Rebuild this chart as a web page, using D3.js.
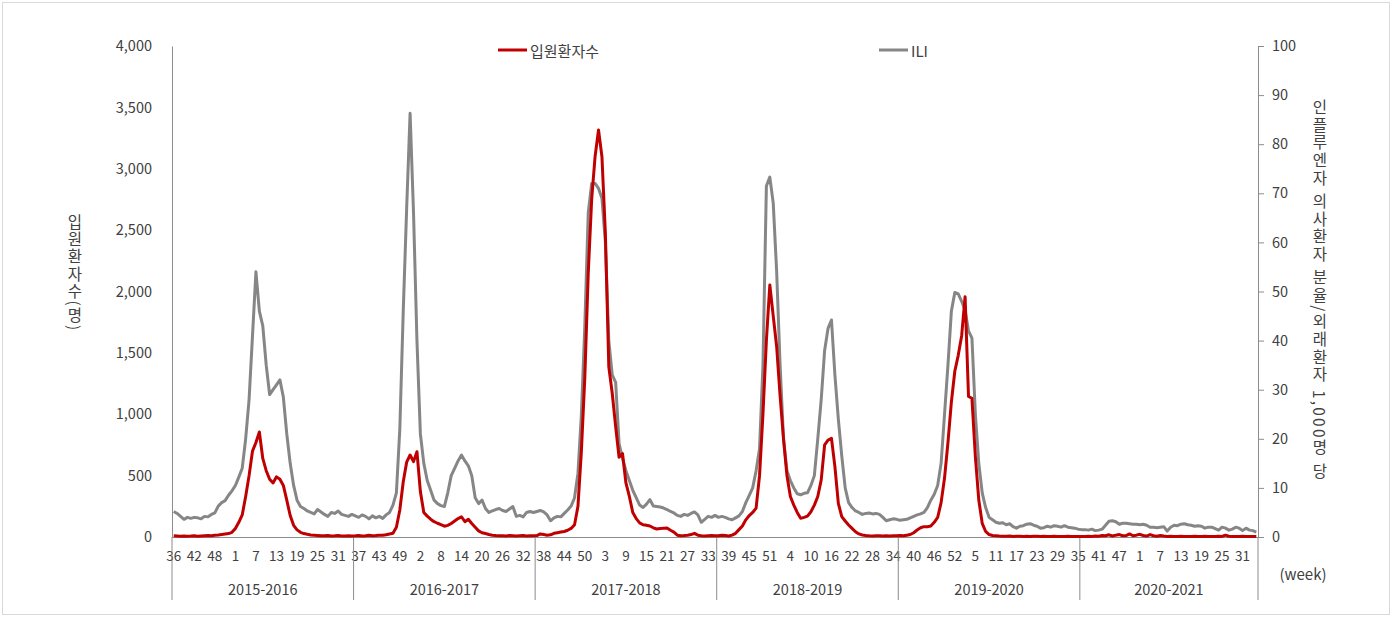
<!DOCTYPE html>
<html>
<head>
<meta charset="utf-8">
<script src="https://cdn.jsdelivr.net/npm/d3@7"></script>
<style>
  html, body { margin: 0; padding: 0; background: #ffffff; }
  svg { display: block; }
  text { font-family: "Noto Sans CJK KR", "Noto Sans", sans-serif; fill: #404040; }
</style>
</head>
<body>
<svg id="chart" width="1397" height="644"></svg>
<script>
// ---------------- DATA ----------------
const seasons = ["2015-2016", "2016-2017", "2017-2018", "2018-2019", "2019-2020", "2020-2021"];
const weeksPerSeason = [53, 53, 53, 53, 53, 52];

const weekTickLabels = ["36","42","48","1","7","13","19","25","31",
  "37","43","49","2","8","14","20","26","32",
  "38","44","50","3","9","15","21","27","33",
  "39","45","51","4","10","16","22","28","34",
  "40","46","52","5","11","17","23","29","35",
  "41","47","1","7","13","19","25","31"];
const tickEvery = 6;

const leftTicks = [0, 500, 1000, 1500, 2000, 2500, 3000, 3500, 4000];
const rightTicks = [0, 10, 20, 30, 40, 50, 60, 70, 80, 90, 100];

// 입원환자수 (hospitalized patients), per season
const hosp2015 = [10, 8, 6, 9, 7, 8, 10, 7, 9, 11, 12, 10, 14, 16,
  20, 24, 28, 38, 70, 120, 180, 330, 500, 700, 770, 855, 640, 540,
  470, 440, 490, 470, 420, 300, 175, 95, 58, 38, 28, 22, 17, 15,
  13, 11, 10, 12, 9, 10, 12, 9, 8, 10, 9];
const hosp2016 = [10, 12, 8, 10, 14, 10, 12, 15, 14, 18,
  25, 30, 80, 220, 450, 610, 668, 614, 695, 370, 200, 170, 145, 125,
  112, 100, 88, 95, 110, 130, 150, 165, 125, 145, 110, 80, 50, 35,
  28, 20, 15, 12, 10, 11, 9, 12, 10, 8, 10, 12, 9, 11, 10];
const hosp2017 = [12, 25, 20, 15, 18, 30, 35, 40, 45, 55, 70,
  100, 250, 700, 1300, 2150, 2750, 3100, 3316, 3098, 2474, 1387, 1171, 900, 650,
  680, 440, 330, 200, 150, 115, 100, 95, 90, 75, 65, 70, 72, 73,
  55, 40, 15, 10, 12, 15, 20, 30, 15, 10, 8, 10, 12, 10];
const hosp2018 = [10, 15, 12, 8, 15, 30, 60, 90, 140, 175, 200, 235,
  500, 1000, 1600, 2053, 1800, 1550, 1150, 800, 500, 330, 260, 200, 152, 160,
  170, 206, 260, 330, 464, 750, 790, 804, 573, 274, 166, 130, 98, 70,
  43, 25, 16, 12, 10, 9, 11, 10, 8, 10, 9, 11, 10];
const hosp2019 = [12, 10, 15, 20, 35, 57, 75, 84, 84, 90, 120, 160, 280,
  480, 770, 1100, 1350, 1480, 1640, 1958, 1145, 1130, 654, 301, 111, 45, 20,
  12, 10, 8, 7, 6, 8, 5, 6, 7, 5, 6, 5, 7, 6, 5, 6, 4, 5, 6, 5, 4, 5, 6, 5, 4, 5];
const hosp2020 = [5, 4, 6, 5, 8, 6, 12, 10, 18, 8,
  15, 20, 10, 12, 25, 10, 15, 22, 12, 8,
  20, 10, 6, 12, 8, 5, 6, 5, 4, 6,
  5, 4, 5, 6, 4, 5, 6, 5, 4, 5,
  6, 5, 15, 6, 5, 4, 5, 6, 5, 4,
  5, 4];

// ILI (per 1,000 outpatients), per season
const ili2015 = [5.2, 4.8, 4.2, 3.6, 4.0, 3.8, 4.0, 3.9, 3.7, 4.2, 4.1, 4.6, 4.9, 6.3,
  7.0, 7.4, 8.5, 9.4, 10.5, 12.2, 14.0, 20.0, 28.0, 41.0, 54.0, 46.0, 43.0, 35.0,
  29.0, 30.0, 31.0, 32.0, 28.5, 21.0, 15.0, 10.5, 7.5, 6.2, 5.8, 5.3, 5.0, 4.7,
  5.6, 5.1, 4.6, 4.2, 5.0, 4.8, 5.3, 4.6, 4.4, 4.2, 4.6];
const ili2016 = [4.3, 4.0, 4.5, 4.2, 3.7, 4.3, 3.9, 4.2, 3.8, 4.5,
  5.0, 6.5, 9.0, 22.0, 46.0, 67.0, 86.3, 66.0, 40.0, 21.0, 15.0, 11.5, 9.5, 7.5,
  6.8, 6.4, 6.2, 9.0, 12.5, 14.0, 15.5, 16.7, 15.5, 14.5, 12.5, 8.0, 6.8, 7.5,
  5.8, 5.0, 5.3, 5.6, 5.8, 5.4, 5.2, 5.7, 6.2, 4.2, 4.4, 4.1, 5.0, 5.2, 5.0];
const ili2017 = [5.2, 5.4, 5.1, 4.5, 3.3, 3.9, 4.2, 4.1, 4.8, 5.5, 6.3,
  8.0, 13.0, 25.0, 43.0, 66.0, 72.0, 72.0, 71.0, 69.0, 60.0, 40.0, 33.0, 31.5, 19.0,
  16.0, 13.5, 11.5, 9.5, 8.0, 6.5, 6.0, 6.7, 7.6, 6.3, 6.2, 6.1, 5.9, 5.6,
  5.2, 4.9, 4.4, 4.2, 4.6, 4.4, 4.8, 5.1, 4.5, 3.0, 3.6, 4.2, 4.0, 4.4];
const ili2018 = [4.0, 4.2, 4.0, 3.7, 3.5, 3.9, 4.3, 5.2, 7.0, 8.5, 10.0, 13.5,
  18.0, 35.0, 71.5, 73.3, 68.0, 54.0, 35.0, 20.0, 13.5, 11.5, 10.0, 8.8, 8.6, 8.9,
  9.0, 10.5, 12.5, 20.0, 28.0, 38.0, 42.5, 44.2, 33.0, 24.0, 16.5, 10.0, 7.0, 6.0,
  5.3, 5.0, 4.6, 4.8, 4.9, 4.7, 4.8, 4.6, 4.0, 3.3, 3.5, 3.7, 3.6];
const ili2019 = [3.4, 3.5, 3.6, 3.9, 4.2, 4.5, 4.7, 5.0, 6.0, 7.5, 8.7, 10.5, 15.0,
  25.0, 35.0, 46.0, 49.8, 49.5, 48.0, 46.2, 42.0, 40.5, 25.0, 15.0, 9.0, 6.0, 4.0,
  3.5, 3.0, 2.8, 2.9, 2.5, 2.7, 2.1, 1.8, 2.2, 2.3, 2.6, 2.7, 2.4, 2.2, 1.8, 1.9,
  2.2, 2.0, 2.3, 2.2, 2.0, 2.3, 2.0, 1.9, 1.8, 1.6];
const ili2020 = [1.5, 1.5, 1.4, 1.6, 1.3, 1.4, 1.6, 2.4, 3.2, 3.3,
  3.1, 2.6, 2.8, 2.8, 2.7, 2.6, 2.6, 2.5, 2.6, 2.4,
  2.0, 2.0, 1.9, 2.0, 2.1, 1.2, 2.0, 2.4, 2.3, 2.6,
  2.7, 2.5, 2.4, 2.2, 2.3, 2.2, 1.8, 2.0, 2.0, 1.7,
  1.4, 2.0, 1.8, 1.4, 1.6, 2.0, 1.8, 1.3, 1.8, 1.4,
  1.3, 1.0];

const hospitalized = [].concat(hosp2015, hosp2016, hosp2017, hosp2018, hosp2019, hosp2020);
const ili = [].concat(ili2015, ili2016, ili2017, ili2018, ili2019, ili2020);

// ---------------- CHART ----------------
const svg = d3.select("#chart");
const axisColor = "#8c8c8c";
const red = "#C00000";
const grey = "#868686";

const plot = { left: 172, right: 1258, top: 46, bottom: 537 };
const N = d3.sum(weeksPerSeason);

const x = d3.scaleBand().domain(d3.range(N)).range([plot.left, plot.right]).padding(0);
const cx = i => x(i) + x.bandwidth() / 2;
const yL = d3.scaleLinear().domain([0, 4000]).range([plot.bottom, plot.top]);
const yR = d3.scaleLinear().domain([0, 100]).range([plot.bottom, plot.top]);

// outer frame
svg.append("rect").attr("x", 2.5).attr("y", 2.5).attr("width", 1387).attr("height", 612)
  .attr("fill", "none").attr("stroke", "#d9d9d9").attr("stroke-width", 1);

// left axis
const gL = svg.append("g").attr("transform", `translate(${plot.left},0)`)
  .call(d3.axisLeft(yL).tickValues(leftTicks).tickSize(0).tickPadding(20).tickFormat(d3.format(",")));
gL.select(".domain").attr("stroke", axisColor);
gL.selectAll("text").style("font-size", "14.5px").attr("fill", "#404040");

// right axis
const gR = svg.append("g").attr("transform", `translate(${plot.right},0)`)
  .call(d3.axisRight(yR).tickValues(rightTicks).tickSizeInner(6).tickSizeOuter(6).tickPadding(8));
gR.select(".domain").attr("stroke", axisColor);
gR.selectAll(".tick line").attr("stroke", axisColor);
gR.selectAll("text").style("font-size", "14.5px").attr("fill", "#404040");

// bottom axis (week labels)
const tickIdx = weekTickLabels.map((_, k) => k * tickEvery);
const gB = svg.append("g").attr("transform", `translate(0,${plot.bottom})`)
  .call(d3.axisBottom(x).tickValues(tickIdx).tickSize(0).tickPadding(14)
    .tickFormat((d, k) => weekTickLabels[k]));
gB.select(".domain").attr("stroke", axisColor).attr("d", `M${plot.left},0.5H${plot.right}`);
gB.selectAll("text").style("font-size", "13.5px").attr("fill", "#404040");

// season separators and labels
let start = 0;
const bounds = [0];
weeksPerSeason.forEach(n => { start += n; bounds.push(start); });
bounds.forEach(b => {
  const bx = b < N ? x(b) : plot.right;
  svg.append("line").attr("x1", bx).attr("x2", bx).attr("y1", plot.bottom).attr("y2", 600)
    .attr("stroke", axisColor).attr("stroke-width", 1);
});
seasons.forEach((s, k) => {
  const x0 = x(bounds[k]);
  const x1 = bounds[k + 1] < N ? x(bounds[k + 1]) : plot.right;
  svg.append("text").attr("x", (x0 + x1) / 2).attr("y", 588)
    .attr("text-anchor", "middle").attr("dominant-baseline", "central")
    .style("font-size", "14.5px").text(s);
});

svg.append("text").attr("x", 1303).attr("y", 573).attr("text-anchor", "middle")
  .attr("dominant-baseline", "central").style("font-size", "15px").text("(week)");

// lines
const lineL = d3.line().x((d, i) => cx(i)).y(d => yL(d));
const lineR = d3.line().x((d, i) => cx(i)).y(d => yR(d));

svg.append("path").datum(ili).attr("d", lineR).attr("fill", "none")
  .attr("stroke", grey).attr("stroke-width", 3).attr("stroke-linejoin", "round");
svg.append("path").datum(hospitalized).attr("d", lineL).attr("fill", "none")
  .attr("stroke", red).attr("stroke-width", 3).attr("stroke-linejoin", "round");

// axis titles (vertical writing, upright Hangul)
svg.append("text").attr("x", 75).attr("y", 273)
  .attr("text-anchor", "middle")
  .style("writing-mode", "vertical-rl").style("font-size", "15.5px").style("letter-spacing", "1.8px")
  .text("입원환자수(명)");
svg.append("text").attr("x", 1320).attr("y", 290)
  .attr("text-anchor", "middle")
  .style("writing-mode", "vertical-rl").style("font-size", "15.5px").style("letter-spacing", "2.2px")
  .text("인플루엔자 의사환자 분율/외래환자 1,000명 당");

// legend
const legend = [
  { label: "입원환자수", color: red, x: 498 },
  { label: "ILI", color: grey, x: 879 }
];
legend.forEach(l => {
  svg.append("line").attr("x1", l.x).attr("x2", l.x + 29).attr("y1", 50).attr("y2", 50)
    .attr("stroke", l.color).attr("stroke-width", 3);
  svg.append("text").attr("x", l.x + 32).attr("y", 50).attr("dominant-baseline", "central")
    .style("font-size", "15px").text(l.label);
});
</script>
</body>
</html>
